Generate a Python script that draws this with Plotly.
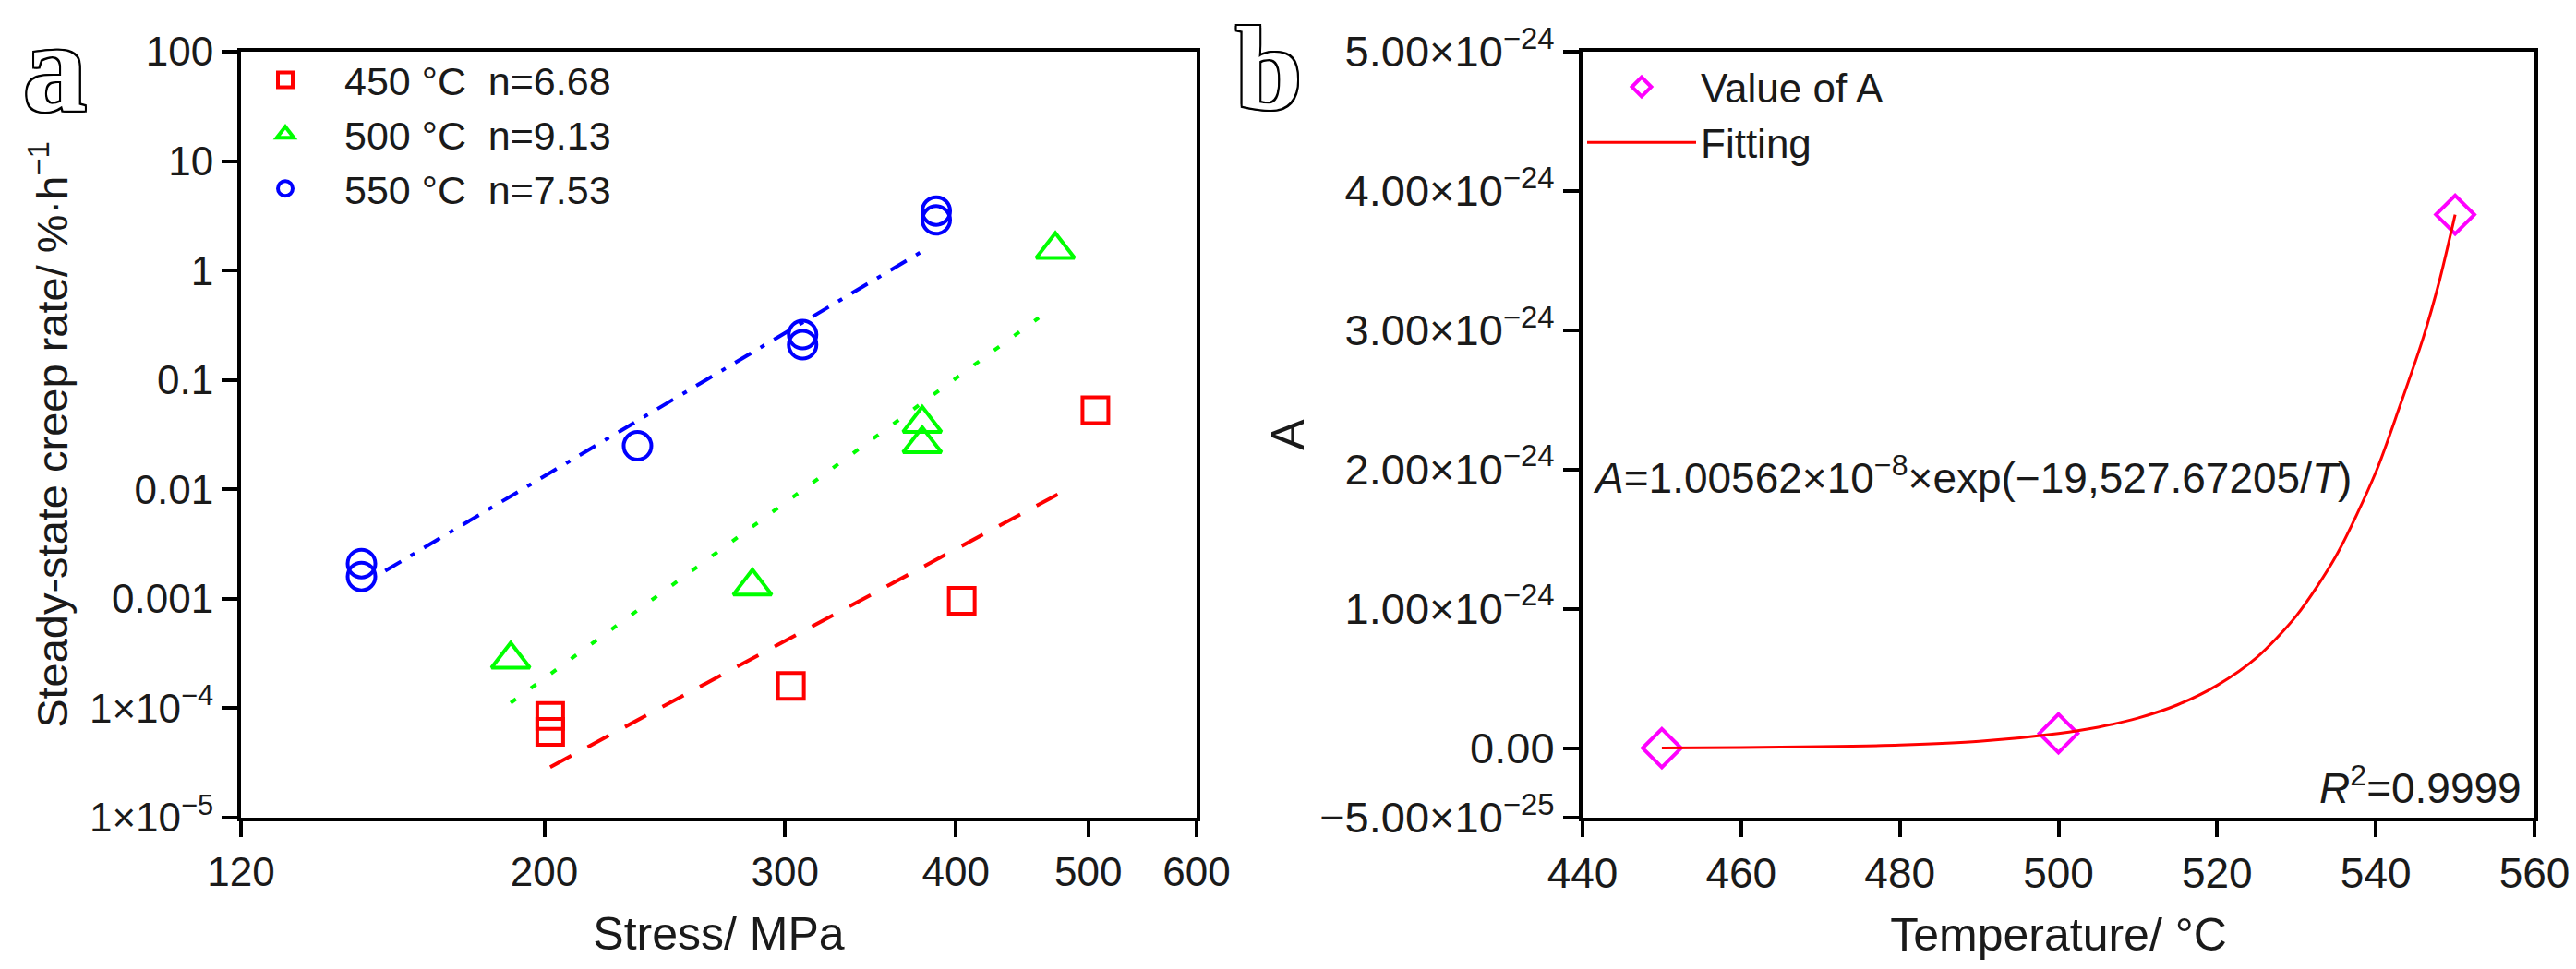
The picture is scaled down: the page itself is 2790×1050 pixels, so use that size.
import plotly.graph_objects as go

# ---- panel (a): steady-state creep rate vs stress (log-log) ----
stress_450 = [202, 202, 303, 404, 506]
rate_450 = [8.5e-5, 6.1e-5, 1.6e-4, 9.6e-4, 0.053]
stress_500 = [189, 284, 378, 378, 473]
rate_500 = [2.8e-4, 1.3e-3, 0.040, 0.026, 1.55]
stress_550 = [147, 147, 234, 309, 309, 387, 387]
rate_550 = [2.1e-3, 1.6e-3, 0.025, 0.26, 0.21, 3.5, 2.9]

# fitted lines, end points
fit450_x = [202, 488]
fit450_y = [2.9e-5, 0.0108]
fit500_x = [189, 460]
fit500_y = [1.12e-4, 0.37]
fit550_x = [153, 381]
fit550_y = [1.8e-3, 1.59]

labels_a = ["450 °C\u00a0\u00a0n=6.68", "500 °C\u00a0\u00a0n=9.13", "550 °C\u00a0\u00a0n=7.53"]

stress_ticks = [120, 200, 300, 400, 500, 600]
rate_ticks = [1e-5, 1e-4, 1e-3, 1e-2, 0.1, 1, 10, 100]
rate_ticktext = ["1×10<sup>−5</sup>", "1×10<sup>−4</sup>", "0.001", "0.01", "0.1", "1", "10", "100"]

# ---- panel (b): A vs temperature ----
temp = [450, 500, 550]
A_vals = [0.0, 1.05e-25, 3.83e-24]
fit_T = [450, 460, 470, 480, 490, 500, 505, 510, 515, 520, 525, 530, 535, 540, 543, 546, 548, 550]
fit_A = [v * 1e-24 for v in [0.0, 0.004, 0.01, 0.022, 0.048, 0.105, 0.15, 0.215, 0.31, 0.45,
                             0.65, 0.95, 1.38, 1.98, 2.45, 2.95, 3.35, 3.83]]

temp_ticks = [440, 460, 480, 500, 520, 540, 560]
A_ticks = [-5e-25, 0, 1e-24, 2e-24, 3e-24, 4e-24, 5e-24]
A_ticktext = ["−5.00×10<sup>−25</sup>", "0.00", "1.00×10<sup>−24</sup>", "2.00×10<sup>−24</sup>",
              "3.00×10<sup>−24</sup>", "4.00×10<sup>−24</sup>", "5.00×10<sup>−24</sup>"]

W, H = 2790, 1050
FONT = "Liberation Sans, Arial, sans-serif"
INK = "#1a1a1a"
RED, GREEN, BLUE, MAGENTA = "#ff0000", "#00ff00", "#0000ff", "#ff00ff"

fig = go.Figure()

# scatter points (a)
fig.add_trace(go.Scatter(x=stress_450, y=rate_450, mode="markers", name=labels_a[0],
                         marker=dict(symbol="square-open", size=28, color=RED, line=dict(width=4, color=RED)),
                         xaxis="x", yaxis="y", legend="legend"))
fig.add_trace(go.Scatter(x=stress_500, y=rate_500, mode="markers", name=labels_a[1],
                         marker=dict(symbol="triangle-up-open", size=36, color=GREEN, line=dict(width=4, color=GREEN)),
                         xaxis="x", yaxis="y", legend="legend"))
fig.add_trace(go.Scatter(x=stress_550, y=rate_550, mode="markers", name=labels_a[2],
                         marker=dict(symbol="circle-open", size=30, color=BLUE, line=dict(width=4, color=BLUE)),
                         xaxis="x", yaxis="y", legend="legend"))

# fit lines (a)
fig.add_trace(go.Scatter(x=fit450_x, y=fit450_y, mode="lines", showlegend=False,
                         line=dict(color=RED, width=4, dash="26px,20px"), xaxis="x", yaxis="y"))
fig.add_trace(go.Scatter(x=fit500_x, y=fit500_y, mode="lines", showlegend=False,
                         line=dict(color=GREEN, width=4, dash="7px,20px"), xaxis="x", yaxis="y"))
fig.add_trace(go.Scatter(x=fit550_x, y=fit550_y, mode="lines", showlegend=False,
                         line=dict(color=BLUE, width=4, dash="20px,12px,5px,12px"), xaxis="x", yaxis="y"))

# panel (b)
fig.add_trace(go.Scatter(x=temp, y=A_vals, mode="markers", name="Value of A",
                         marker=dict(symbol="diamond-open", size=32, color=MAGENTA, line=dict(width=4, color=MAGENTA)),
                         xaxis="x2", yaxis="y2", legend="legend2"))
fig.add_trace(go.Scatter(x=fit_T, y=fit_A, mode="lines", name="Fitting",
                         line=dict(color=RED, width=3, shape="spline", smoothing=0.8),
                         xaxis="x2", yaxis="y2", legend="legend2"))

ydom = [1 - 878 / H, 1 - 48 / H]
axis_common = dict(showline=True, linewidth=4, linecolor="black", mirror=True,
                   ticks="outside", ticklen=17, tickwidth=4, tickcolor="black",
                   showgrid=False, zeroline=False, automargin=False)

fig.update_layout(
    width=W, height=H,
    margin=dict(l=0, r=0, t=0, b=0),
    paper_bgcolor="white", plot_bgcolor="white",
    font=dict(family=FONT, color=INK),
    xaxis=dict(axis_common, type="log", domain=[253 / W, 1288 / W], anchor="y",
               range=[2.0791812, 2.7781513], tickmode="array", tickvals=stress_ticks,
               ticktext=[str(v) for v in stress_ticks],
               tickfont=dict(family=FONT, size=44, color=INK),
               title=dict(text="Stress/ MPa", font=dict(family=FONT, size=50), standoff=27)),
    yaxis=dict(axis_common, type="log", domain=ydom, anchor="x", range=[-5, 2],
               tickmode="array", tickvals=rate_ticks, ticktext=rate_ticktext,
               tickfont=dict(family=FONT, size=44, color=INK),
               title=dict(text="Steady-state creep rate/ %·h<sup>−1</sup>",
                          font=dict(family=FONT, size=47), standoff=10)),
    xaxis2=dict(axis_common, domain=[1706 / W, 2737 / W], anchor="y2", range=[440, 560],
                tickmode="array", tickvals=temp_ticks, ticktext=[str(v) for v in temp_ticks],
                tickfont=dict(family=FONT, size=46, color=INK),
                title=dict(text="Temperature/ °C", font=dict(family=FONT, size=50), standoff=25)),
    yaxis2=dict(axis_common, domain=ydom, anchor="x2", range=[-5e-25, 5e-24],
                tickmode="array", tickvals=A_ticks, ticktext=A_ticktext,
                tickfont=dict(family=FONT, size=47, color=INK),
                title=dict(text="A", font=dict(family=FONT, size=50), standoff=2)),
    legend=dict(x=237 / W, y=1 - 44 / H, xanchor="left", yanchor="top", bgcolor="rgba(0,0,0,0)",
                font=dict(family=FONT, size=43, color=INK), itemwidth=118, tracegroupgap=0),
    legend2=dict(x=1706 / W, y=1 - 51 / H, xanchor="left", yanchor="top", bgcolor="rgba(0,0,0,0)",
                 font=dict(family=FONT, size=44, color=INK), itemwidth=118, tracegroupgap=0),
)

outline = ("-2px -2px 0 #000, 2px -2px 0 #000, -2px 2px 0 #000, 2px 2px 0 #000, "
           "0 2px 0 #000, 0 -2px 0 #000, 2px 0 0 #000, -2px 0 0 #000")
panel_font = dict(family="Liberation Serif, Times New Roman, serif", color="white",
                  weight="bold", shadow=outline)

fig.add_annotation(text="a", xref="paper", yref="paper", x=51 / W, y=1 - 66 / H,
                   xanchor="center", yanchor="middle", showarrow=False, font=dict(panel_font, size=138))
fig.add_annotation(text="b", xref="paper", yref="paper", x=1366 / W, y=1 - 66 / H,
                   xanchor="center", yanchor="middle", showarrow=False, font=dict(panel_font, size=130))

fig.add_annotation(text="<i>A</i>=1.00562×10<sup>−8</sup>×exp(−19,527.67205/<i>T</i>)",
                   xref="x2", yref="y2", x=441.0, y=1.96e-24, xanchor="left", yanchor="middle",
                   showarrow=False, font=dict(family=FONT, size=46, color=INK))
fig.add_annotation(text="<i>R</i><sup>2</sup>=0.9999", xref="x2", yref="y2", x=558.6, y=-2.67e-25,
                   xanchor="right", yanchor="middle", showarrow=False,
                   font=dict(family=FONT, size=46, color=INK))

fig.write_html("out.html")
